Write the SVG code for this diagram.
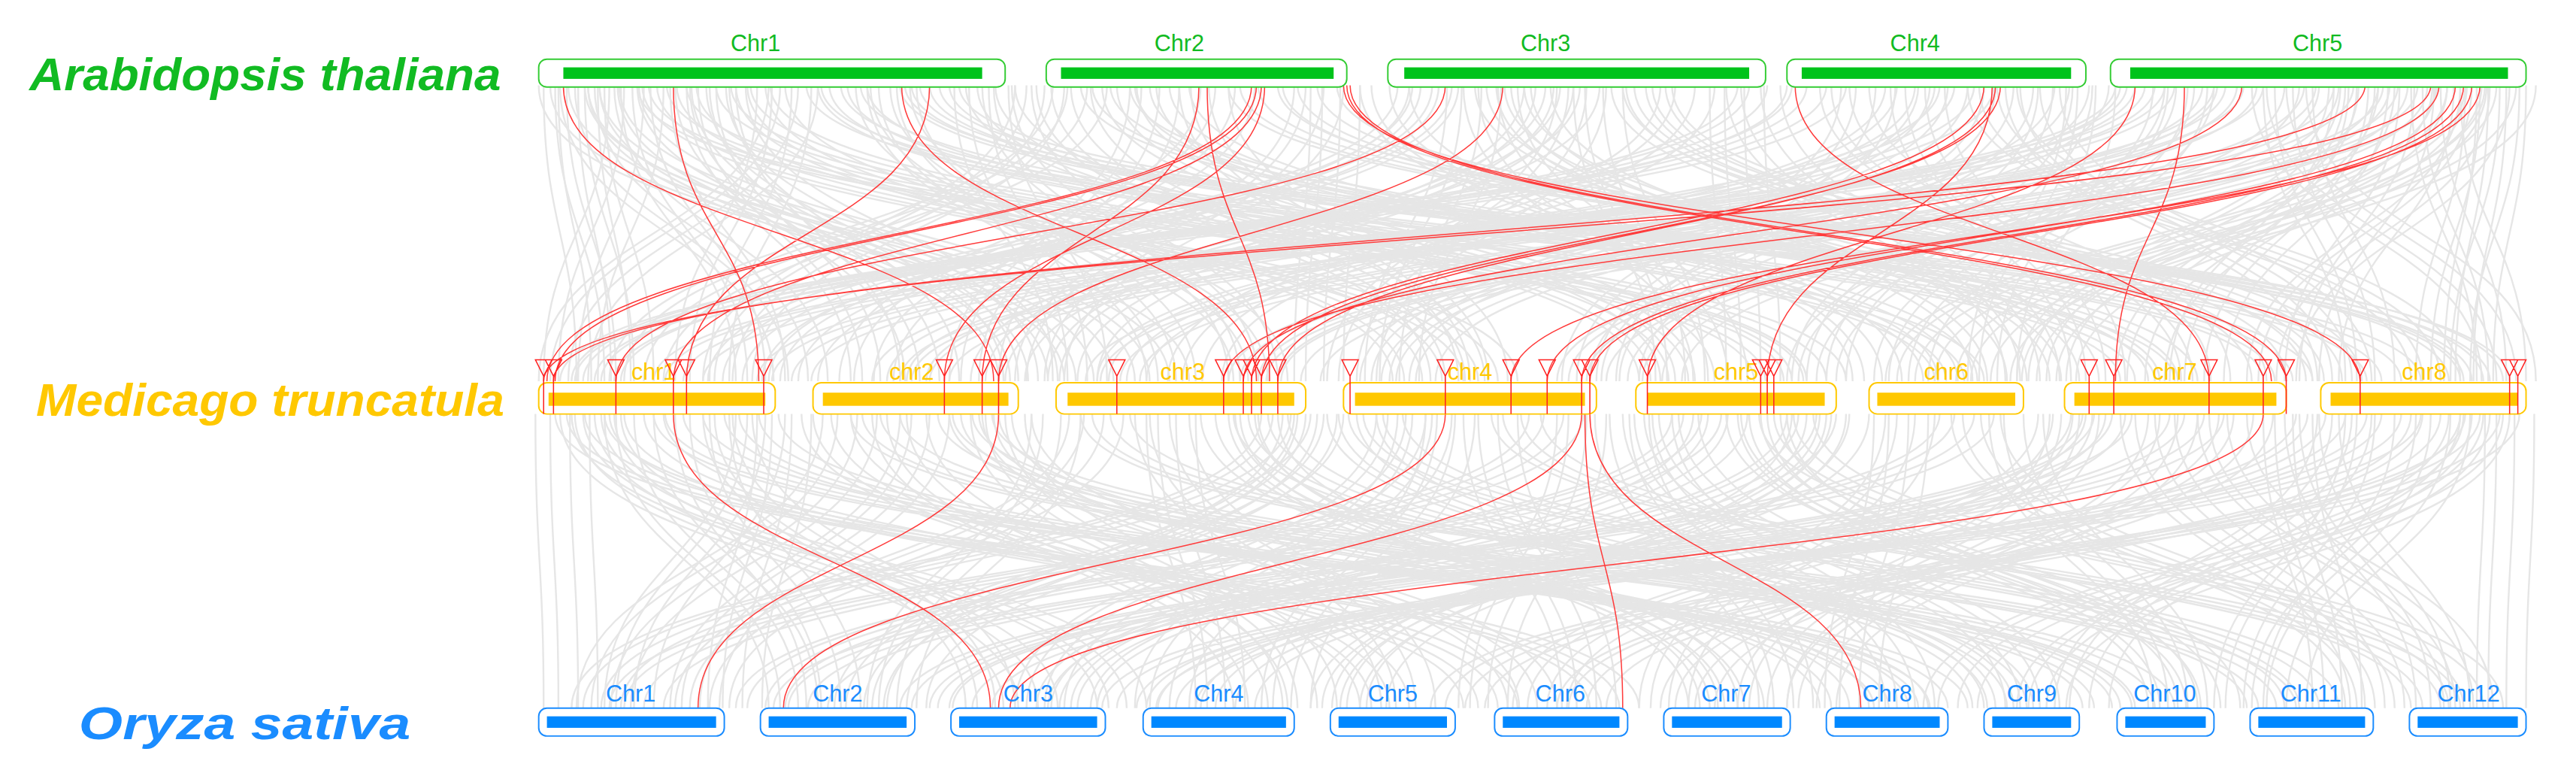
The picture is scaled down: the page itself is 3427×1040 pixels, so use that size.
<svg xmlns="http://www.w3.org/2000/svg" width="3427" height="1040" viewBox="0 0 3427 1040">
<style>
.g{fill:none;stroke:#e6e6e6;stroke-width:1.1}
.r{fill:none;stroke:#ff3b3b;stroke-width:0.7}
.t{fill:none;stroke:#ff2020;stroke-width:0.7}
.ob{fill:#fff;stroke-width:0.9}
.lab{font-family:"Liberation Sans",Arial,sans-serif;font-size:14px;text-anchor:middle}
.sp{font-family:"Liberation Sans",Arial,sans-serif;font-size:28px;font-weight:bold;font-style:italic}
.at rect.o{stroke:#33cc33}.at rect.i{fill:#00c31b}.at text{fill:#11bb22}
.mt rect.o{stroke:#ffc800}.mt rect.i{fill:#ffc800}.mt text{fill:#ffc800}
.os rect.o{stroke:#1a8cff}.os rect.i{fill:#0088ff}.os text{fill:#1a8cff}
</style>
<defs>
<path id="gA" class="g" d="M340 52C340 142 360 142 360 232M350 52C350 142 480 142 480 232M365 52C365 142 700 142 700 232M380 52C380 142 340 142 340 232M400 52C400 142 900 142 900 232M420 52C420 142 560 142 560 232M445 52C445 142 1100 142 1100 232M470 52C470 142 420 142 420 232M500 52C500 142 1300 142 1300 232M530 52C530 142 760 142 760 232M560 52C560 142 1450 142 1450 232M590 52C590 142 650 142 650 232M650 52C650 142 380 142 380 232M680 52C680 142 1020 142 1020 232M700 52C700 142 1180 142 1180 232M740 52C740 142 520 142 520 232M790 52C790 142 1500 142 1500 232M860 52C860 142 440 142 440 232M890 52C890 142 840 142 840 232M920 52C920 142 1210 142 1210 232M950 52C950 142 600 142 600 232M990 52C990 142 1380 142 1380 232M1020 52C1020 142 720 142 720 232M1050 52C1050 142 1060 142 1060 232M1100 52C1100 142 350 142 350 232M1130 52C1130 142 960 142 960 232M1160 52C1160 142 1270 142 1270 232M1190 52C1190 142 540 142 540 232M1230 52C1230 142 1420 142 1420 232M1260 52C1260 142 850 142 850 232M1300 52C1300 142 470 142 470 232M1320 52C1320 142 1150 142 1150 232M1350 52C1350 142 670 142 670 232M1380 52C1380 142 1520 142 1520 232M1400 52C1400 142 1000 142 1000 232M1430 52C1430 142 1330 142 1330 232M1460 52C1460 142 780 142 780 232M1490 52C1490 142 1240 142 1240 232M1510 52C1510 142 1480 142 1480 232M1520 52C1520 142 1200 142 1200 232M1470 52C1470 142 1400 142 1400 232M1250 52C1250 142 1100 142 1100 232M1060 52C1060 142 1230 142 1230 232M900 52C900 142 1040 142 1040 232M640 52C640 142 880 142 880 232M430 52C430 142 620 142 620 232"/>
<path id="gB" class="g" d="M335 252C335 342 340 342 340 431M350 252C350 342 620 342 620 431M380 252C380 342 900 342 900 431M420 252C420 342 500 342 500 431M450 252C450 342 1150 342 1150 431M510 252C510 342 360 342 360 431M540 252C540 342 760 342 760 431M580 252C580 342 1300 342 1300 431M660 252C660 342 420 342 420 431M700 252C700 342 850 342 850 431M740 252C740 342 1050 342 1050 431M790 252C790 342 540 342 540 431M830 252C830 342 1400 342 1400 431M860 252C860 342 700 342 700 431M900 252C900 342 960 342 960 431M940 252C940 342 380 342 380 431M1010 252C1010 342 1230 342 1230 431M1040 252C1040 342 640 342 640 431M1080 252C1080 342 1500 342 1500 431M1100 252C1100 342 820 342 820 431M1150 252C1150 342 1120 342 1120 431M1190 252C1190 342 480 342 480 431M1220 252C1220 342 1320 342 1320 431M1270 252C1270 342 740 342 740 431M1300 252C1300 342 1440 342 1440 431M1330 252C1330 342 580 342 580 431M1360 252C1360 342 1020 342 1020 431M1420 252C1420 342 1260 342 1260 431M1450 252C1450 342 680 342 680 431M1480 252C1480 342 1380 342 1380 431M1510 252C1510 342 880 342 880 431M1500 252C1500 342 1180 342 1180 431M1400 252C1400 342 1480 342 1480 431M1250 252C1250 342 930 342 930 431M1060 252C1060 342 1340 342 1340 431M980 252C980 342 1080 342 1080 431M760 252C760 342 1210 342 1210 431M600 252C600 342 790 342 790 431M470 252C470 342 440 342 440 431"/>
</defs>
<rect width="3427" height="1040" fill="#fff"/>
<g transform="scale(2.185)">
<g id="connectors">
<g id="gray">
<use href="#gA"/><use href="#gA" transform="translate(12,0)"/><use href="#gA" transform="translate(-9,0)"/><use href="#gA" transform="translate(24,0)"/>
<use href="#gA" transform="translate(1866,0) scale(-1,1)"/><use href="#gA" transform="translate(1878,0) scale(-1,1)"/><use href="#gA" transform="translate(1855,0) scale(-1,1)"/><use href="#gA" transform="translate(1848,0) scale(-1,1)"/>
<use href="#gB"/><use href="#gB" transform="translate(12,0)"/><use href="#gB" transform="translate(-9,0)"/><use href="#gB" transform="translate(24,0)"/>
<use href="#gB" transform="translate(1866,0) scale(-1,1)"/><use href="#gB" transform="translate(1878,0) scale(-1,1)"/><use href="#gB" transform="translate(1855,0) scale(-1,1)"/><use href="#gB" transform="translate(1848,0) scale(-1,1)"/>
</g>
<g id="red">
<path class="r" d="M343 52C343 142 605 142 605 232M410 52C410 142 462 142 462 232M549 52C549 142 765 142 765 232M566 52C566 142 418 142 418 232M730 52C730 142 598 142 598 232M735 52C735 142 773 142 773 232M762 52C762 142 333 142 333 232M765 52C765 142 338 142 338 232M768 52C768 142 410 142 410 232M770 52C770 142 575 142 575 232M820 52C820 142 1383 142 1383 232M822 52C822 142 1392 142 1392 232M818 52C818 142 1437 142 1437 232M880 52C880 142 375 142 375 232M915 52C915 142 608 142 608 232M1093 52C1093 142 1345 142 1345 232M1215 52C1215 142 778 142 778 232M1218 52C1218 142 768 142 768 232M1208 52C1208 142 762 142 762 232M1213 52C1213 142 1076 142 1076 232M1300 52C1300 142 1003 142 1003 232M1330 52C1330 142 1288 142 1288 232M1365 52C1365 142 757 142 757 232M1440 52C1440 142 337 142 337 232M1480 52C1480 142 331 142 331 232M1495 52C1495 142 942 142 942 232M1500 52C1500 142 963 142 963 232M1505 52C1505 142 968 142 968 232M1510 52C1510 142 920 142 920 232M1485 52C1485 142 745 142 745 232"/>
<path class="r" d="M410 252C410 342 603 342 603 431M608 252C608 342 425 342 425 431M880 252C880 342 477 342 477 431M963 252C963 342 608 342 608 431M965 252C965 342 988 342 988 431M968 252C968 342 1133 342 1133 431M1378 252C1378 342 615 342 615 431"/>
</g>
</g>
<g id="node-at" class="at">
<text class="sp" x="18" y="55" textLength="287" lengthAdjust="spacingAndGlyphs">Arabidopsis thaliana</text>
<g id="at1"><rect class="o ob" x="328" y="36" width="284" height="17" rx="5"/><rect class="i" x="343" y="41" width="255" height="7"/><text class="lab" x="460" y="31">Chr1</text></g>
<g id="at2"><rect class="o ob" x="637" y="36" width="183" height="17" rx="5"/><rect class="i" x="646" y="41" width="166" height="7"/><text class="lab" x="718" y="31">Chr2</text></g>
<g id="at3"><rect class="o ob" x="845" y="36" width="230" height="17" rx="5"/><rect class="i" x="855" y="41" width="210" height="7"/><text class="lab" x="941" y="31">Chr3</text></g>
<g id="at4"><rect class="o ob" x="1088" y="36" width="182" height="17" rx="5"/><rect class="i" x="1097" y="41" width="164" height="7"/><text class="lab" x="1166" y="31">Chr4</text></g>
<g id="at5"><rect class="o ob" x="1285" y="36" width="253" height="17" rx="5"/><rect class="i" x="1297" y="41" width="230" height="7"/><text class="lab" x="1411" y="31">Chr5</text></g>
</g>
<g id="node-mt" class="mt">
<text class="sp" x="22" y="253" textLength="285" lengthAdjust="spacingAndGlyphs">Medicago truncatula</text>
<g id="mt1"><rect class="o ob" x="328" y="233" width="144" height="19" rx="5"/><rect class="i" x="334" y="239" width="132" height="8"/><text class="lab" x="398" y="231">chr1</text></g>
<g id="mt2"><rect class="o ob" x="495" y="233" width="125" height="19" rx="5"/><rect class="i" x="501" y="239" width="113" height="8"/><text class="lab" x="555" y="231">chr2</text></g>
<g id="mt3"><rect class="o ob" x="643" y="233" width="152" height="19" rx="5"/><rect class="i" x="650" y="239" width="138" height="8"/><text class="lab" x="720" y="231">chr3</text></g>
<g id="mt4"><rect class="o ob" x="818" y="233" width="154" height="19" rx="5"/><rect class="i" x="825" y="239" width="140" height="8"/><text class="lab" x="895" y="231">chr4</text></g>
<g id="mt5"><rect class="o ob" x="996" y="233" width="122" height="19" rx="5"/><rect class="i" x="1003" y="239" width="108" height="8"/><text class="lab" x="1057" y="231">chr5</text></g>
<g id="mt6"><rect class="o ob" x="1138" y="233" width="94" height="19" rx="5"/><rect class="i" x="1143" y="239" width="84" height="8"/><text class="lab" x="1185" y="231">chr6</text></g>
<g id="mt7"><rect class="o ob" x="1257" y="233" width="135" height="19" rx="5"/><rect class="i" x="1263" y="239" width="123" height="8"/><text class="lab" x="1324" y="231">chr7</text></g>
<g id="mt8"><rect class="o ob" x="1413" y="233" width="125" height="19" rx="5"/><rect class="i" x="1419" y="239" width="114" height="8"/><text class="lab" x="1476" y="231">chr8</text></g>
<g id="markers">
<path class="t" d="M326 219h10l-5 10zM331 229v23M332 219h10l-5 10zM337 229v23M370 219h10l-5 10zM375 229v23M405 219h10l-5 10zM410 229v23M413 219h10l-5 10zM418 229v23M460 219h10l-5 10zM465 229v23M570 219h10l-5 10zM575 229v23M593 219h10l-5 10zM598 229v23M603 219h10l-5 10zM608 229v23M675 219h10l-5 10zM680 229v23M740 219h10l-5 10zM745 229v23M752 219h10l-5 10zM757 229v23M757 219h10l-5 10zM762 229v23M763 219h10l-5 10zM768 229v23M773 219h10l-5 10zM778 229v23M817 219h10l-5 10zM822 229v23M875 219h10l-5 10zM880 229v23M915 219h10l-5 10zM920 229v23M937 219h10l-5 10zM942 229v23M958 219h10l-5 10zM963 229v23M963 219h10l-5 10zM968 229v23M998 219h10l-5 10zM1003 229v23M1067 219h10l-5 10zM1072 229v23M1071 219h10l-5 10zM1076 229v23M1075 219h10l-5 10zM1080 229v23M1267 219h10l-5 10zM1272 229v23M1282 219h10l-5 10zM1287 229v23M1340 219h10l-5 10zM1345 229v23M1373 219h10l-5 10zM1378 229v23M1387 219h10l-5 10zM1392 229v23M1432 219h10l-5 10zM1437 229v23M1523 219h10l-5 10zM1528 229v23M1528 219h10l-5 10zM1533 229v23"/>
</g>
</g>
<g id="node-os" class="os">
<text class="sp" x="48" y="450" textLength="202" lengthAdjust="spacingAndGlyphs">Oryza sativa</text>
<g id="os1"><rect class="o ob" x="328" y="431" width="113" height="17" rx="5"/><rect class="i" x="333" y="436" width="103" height="7"/><text class="lab" x="384" y="427">Chr1</text></g>
<g id="os2"><rect class="o ob" x="463" y="431" width="94" height="17" rx="5"/><rect class="i" x="468" y="436" width="84" height="7"/><text class="lab" x="510" y="427">Chr2</text></g>
<g id="os3"><rect class="o ob" x="579" y="431" width="94" height="17" rx="5"/><rect class="i" x="584" y="436" width="84" height="7"/><text class="lab" x="626" y="427">Chr3</text></g>
<g id="os4"><rect class="o ob" x="696" y="431" width="92" height="17" rx="5"/><rect class="i" x="701" y="436" width="82" height="7"/><text class="lab" x="742" y="427">Chr4</text></g>
<g id="os5"><rect class="o ob" x="810" y="431" width="76" height="17" rx="5"/><rect class="i" x="815" y="436" width="66" height="7"/><text class="lab" x="848" y="427">Chr5</text></g>
<g id="os6"><rect class="o ob" x="910" y="431" width="81" height="17" rx="5"/><rect class="i" x="915" y="436" width="71" height="7"/><text class="lab" x="950" y="427">Chr6</text></g>
<g id="os7"><rect class="o ob" x="1013" y="431" width="77" height="17" rx="5"/><rect class="i" x="1018" y="436" width="67" height="7"/><text class="lab" x="1051" y="427">Chr7</text></g>
<g id="os8"><rect class="o ob" x="1112" y="431" width="74" height="17" rx="5"/><rect class="i" x="1117" y="436" width="64" height="7"/><text class="lab" x="1149" y="427">Chr8</text></g>
<g id="os9"><rect class="o ob" x="1208" y="431" width="58" height="17" rx="5"/><rect class="i" x="1213" y="436" width="48" height="7"/><text class="lab" x="1237" y="427">Chr9</text></g>
<g id="os10"><rect class="o ob" x="1289" y="431" width="59" height="17" rx="5"/><rect class="i" x="1294" y="436" width="49" height="7"/><text class="lab" x="1318" y="427">Chr10</text></g>
<g id="os11"><rect class="o ob" x="1370" y="431" width="75" height="17" rx="5"/><rect class="i" x="1375" y="436" width="65" height="7"/><text class="lab" x="1407" y="427">Chr11</text></g>
<g id="os12"><rect class="o ob" x="1467" y="431" width="71" height="17" rx="5"/><rect class="i" x="1472" y="436" width="61" height="7"/><text class="lab" x="1503" y="427">Chr12</text></g>
</g>
</g>
</svg>
